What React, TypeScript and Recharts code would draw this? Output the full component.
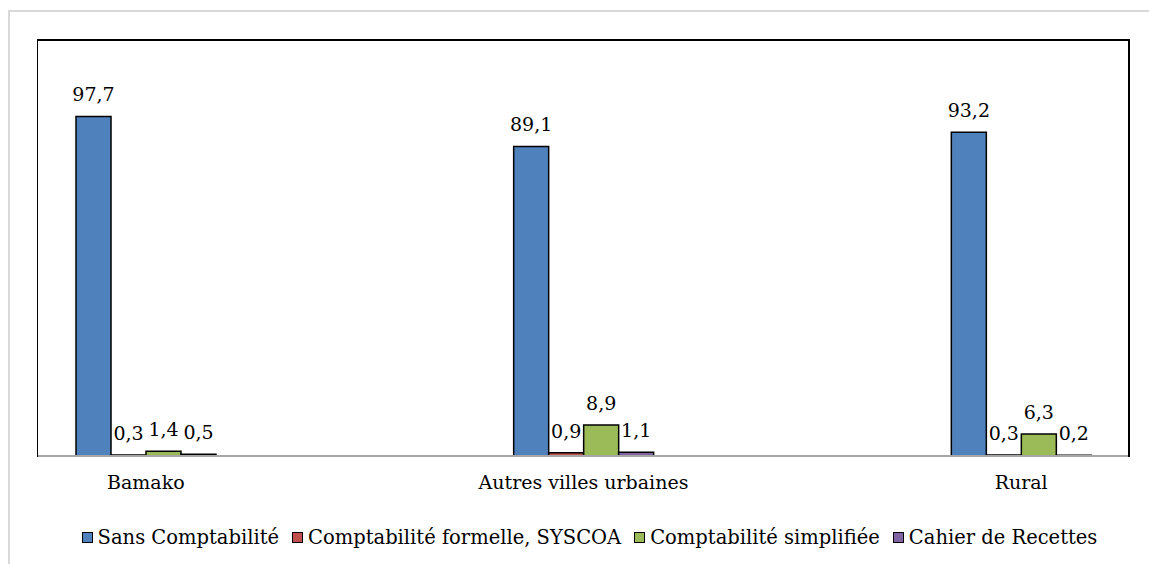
import { Bar, BarChart, LabelList, Legend, XAxis, YAxis } from 'recharts';

const categories = ['Bamako', 'Autres villes urbaines', 'Rural'];
const sansComptabilite = [97.7, 89.1, 93.2];
const comptabiliteFormelle = [0.3, 0.9, 0.3];
const comptabiliteSimplifiee = [1.4, 8.9, 6.3];
const cahierRecettes = [0.5, 1.1, 0.2];

const series = [
  { key: 'sans', name: 'Sans Comptabilité', color: '#4F81BD' },
  { key: 'formelle', name: 'Comptabilité formelle, SYSCOA', color: '#C0504D' },
  { key: 'simplifiee', name: 'Comptabilité simplifiée', color: '#9BBB59' },
  { key: 'cahier', name: 'Cahier de Recettes', color: '#8064A2' },
];

const data = categories.map((name, i) => ({
  name,
  sans: sansComptabilite[i],
  formelle: comptabiliteFormelle[i],
  simplifiee: comptabiliteSimplifiee[i],
  cahier: cahierRecettes[i],
}));

// Liberation Serif is not available here, DejaVu Serif is the closest serif
const FONT = 'DejaVu Serif';
const FONT_SIZE = 19;
const fmt = (v: any) => String(v).replace('.', ',');

const LegendContent = () => (
  <div
    style={{
      display: 'flex',
      justifyContent: 'center',
      alignItems: 'center',
      height: 30,
      paddingLeft: 12,
      fontFamily: FONT,
      fontSize: 19.5,
      color: '#000',
      whiteSpace: 'nowrap',
    }}
  >
    {series.map((s, i) => (
      <div
        key={s.key}
        style={{ display: 'flex', alignItems: 'center', marginRight: i < series.length - 1 ? 13 : 0 }}
      >
        <span
          style={{
            display: 'inline-block',
            width: 9,
            height: 9,
            background: s.color,
            border: '1.5px solid #000',
            marginRight: 5,
          }}
        />
        <span>{s.name}</span>
      </div>
    ))}
  </div>
);

const App = () => {
  return (
    <div style={{ position: 'relative', width: 1149, height: 564, overflow: 'hidden', background: '#fff' }}>
      <style>{'body{margin:0;overflow:hidden}'}</style>
      <div
        style={{
          position: 'absolute',
          left: 8,
          top: 10,
          width: 1141,
          height: 554,
          borderTop: '2px solid #d9d9d9',
          borderLeft: '2px solid #d9d9d9',
          boxSizing: 'border-box',
        }}
      />
      <div style={{ position: 'absolute', left: 0, top: 0 }}>
        <BarChart
          width={1149}
          height={564}
          data={data}
          margin={{ top: 39, right: 19, bottom: 12, left: 37 }}
          barGap={0}
          barSize={35}
        >
          <XAxis
            dataKey="name"
            height={66}
            padding={{ left: -110, right: -110 }}
            axisLine={{ stroke: '#a6a6a6', strokeWidth: 2 }}
            tickLine={false}
            tickSize={0}
            tickMargin={20}
            tick={{ fontFamily: FONT, fontSize: FONT_SIZE, fill: '#000' }}
            interval={0}
          />
          <YAxis hide domain={[0, 120]} />
          <Legend verticalAlign="bottom" height={30} content={<LegendContent />} />
          {series.map((s) => (
            <Bar
              key={s.key}
              dataKey={s.key}
              name={s.name}
              fill={s.color}
              stroke="#000"
              strokeWidth={1.5}
              isAnimationActive={false}
            >
              <LabelList
                dataKey={s.key}
                position="top"
                offset={15}
                formatter={fmt}
                fontFamily={FONT}
                fontSize={FONT_SIZE}
                fill="#000"
              />
            </Bar>
          ))}
        </BarChart>
      </div>
      <div
        style={{
          position: 'absolute',
          left: 37,
          top: 39,
          width: 1093,
          height: 418,
          borderTop: '2px solid #000',
          borderLeft: '1.5px solid #000',
          borderRight: '2px solid #000',
          boxSizing: 'border-box',
          pointerEvents: 'none',
        }}
      />
    </div>
  );
};

export default App;
